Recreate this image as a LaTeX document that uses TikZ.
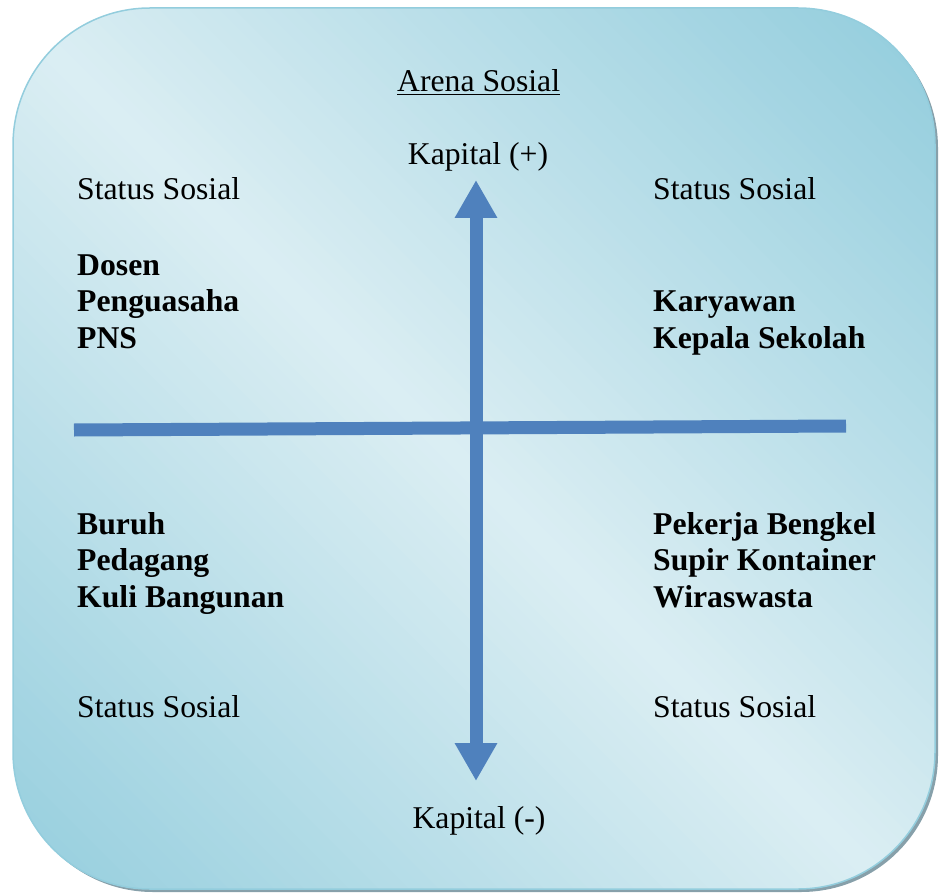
\documentclass[tikz,border=0pt]{standalone}
\usepackage{fontspec}
\setmainfont{Liberation Serif}
\usetikzlibrary{arrows.meta}
\definecolor{arenadark}{RGB}{147,205,221}
\definecolor{arenalight}{RGB}{219,238,243}
\definecolor{axisblue}{RGB}{79,129,189}
\definecolor{shadowgray}{RGB}{135,160,170}

\begin{document}
\begin{tikzpicture}[x=1pt,y=-1pt]%
	\tikzstyle{plaintext}=[anchor=base west, inner sep=0pt, font=\fontsize{31.7}{36.5}\selectfont];
	\tikzstyle{jobtext}=[plaintext, align=left, font=\fontsize{31.7}{36.5}\selectfont\bfseries];
	\tikzstyle{axis}=[draw=axisblue, line width=13pt];
	\tikzstyle{arenabox}=[rounded corners=137pt];
	\useasboundingbox (0,0) rectangle (939,893);
	% background panel with diagonal gradient
	\fill[shadowgray, arenabox] (16,11) rectangle (938,892);
	\begin{scope}
		\clip[arenabox] (13,8) rectangle (935,889);
		\foreach \s in {-900,-885,...,930} {
			\pgfmathsetmacro\pct{min(100,abs(\s+7.5)/9)}
			\fill[arenadark!\pct!arenalight] (\s-100,-100) -- (\s+1000,1000) -- (\s+1016,1000) -- (\s-84,-100) -- cycle;
		}
	\end{scope}
	\draw[arenabox, draw=arenadark, line width=1.5pt] (13,8) rectangle (935,889);
	% texts
	\node[plaintext] (arena) at (397,92) {\underline{Arena Sosial}};
	\node[plaintext, anchor=base] (kplus) at (478,165) {Kapital (+)};
	\node[plaintext, anchor=base] (kminus) at (479,828) {Kapital (-)};
	\node[plaintext] (statustl) at (77,200) {Status Sosial};
	\node[plaintext] (statustr) at (653,200) {Status Sosial};
	\node[plaintext] (statusbl) at (77,717) {Status Sosial};
	\node[plaintext] (statusbr) at (653,717) {Status Sosial};
	\node[jobtext] (jobtl) at (77,348) {Dosen\\Penguasaha\\PNS};
	\node[jobtext] (jobtr) at (653,348) {Karyawan\\Kepala Sekolah};
	\node[jobtext] (jobbl) at (77,607) {Buruh\\Pedagang\\Kuli Bangunan};
	\node[jobtext] (jobbr) at (653,607) {Pekerja Bengkel\\Supir Kontainer\\Wiraswasta};
	% axes
	\coordinate (hleft) at (74,430);
	\coordinate (hright) at (846,426);
	\coordinate (uptip) at (476,180);
	\coordinate (downtip) at (476,781);
	\draw[axis] (hleft) -- (hright);
	\draw[axis, {Triangle[width=40pt,length=38pt]}-{Triangle[width=40pt,length=38pt]}] (uptip) -- (downtip);
\end{tikzpicture}
\end{document}
